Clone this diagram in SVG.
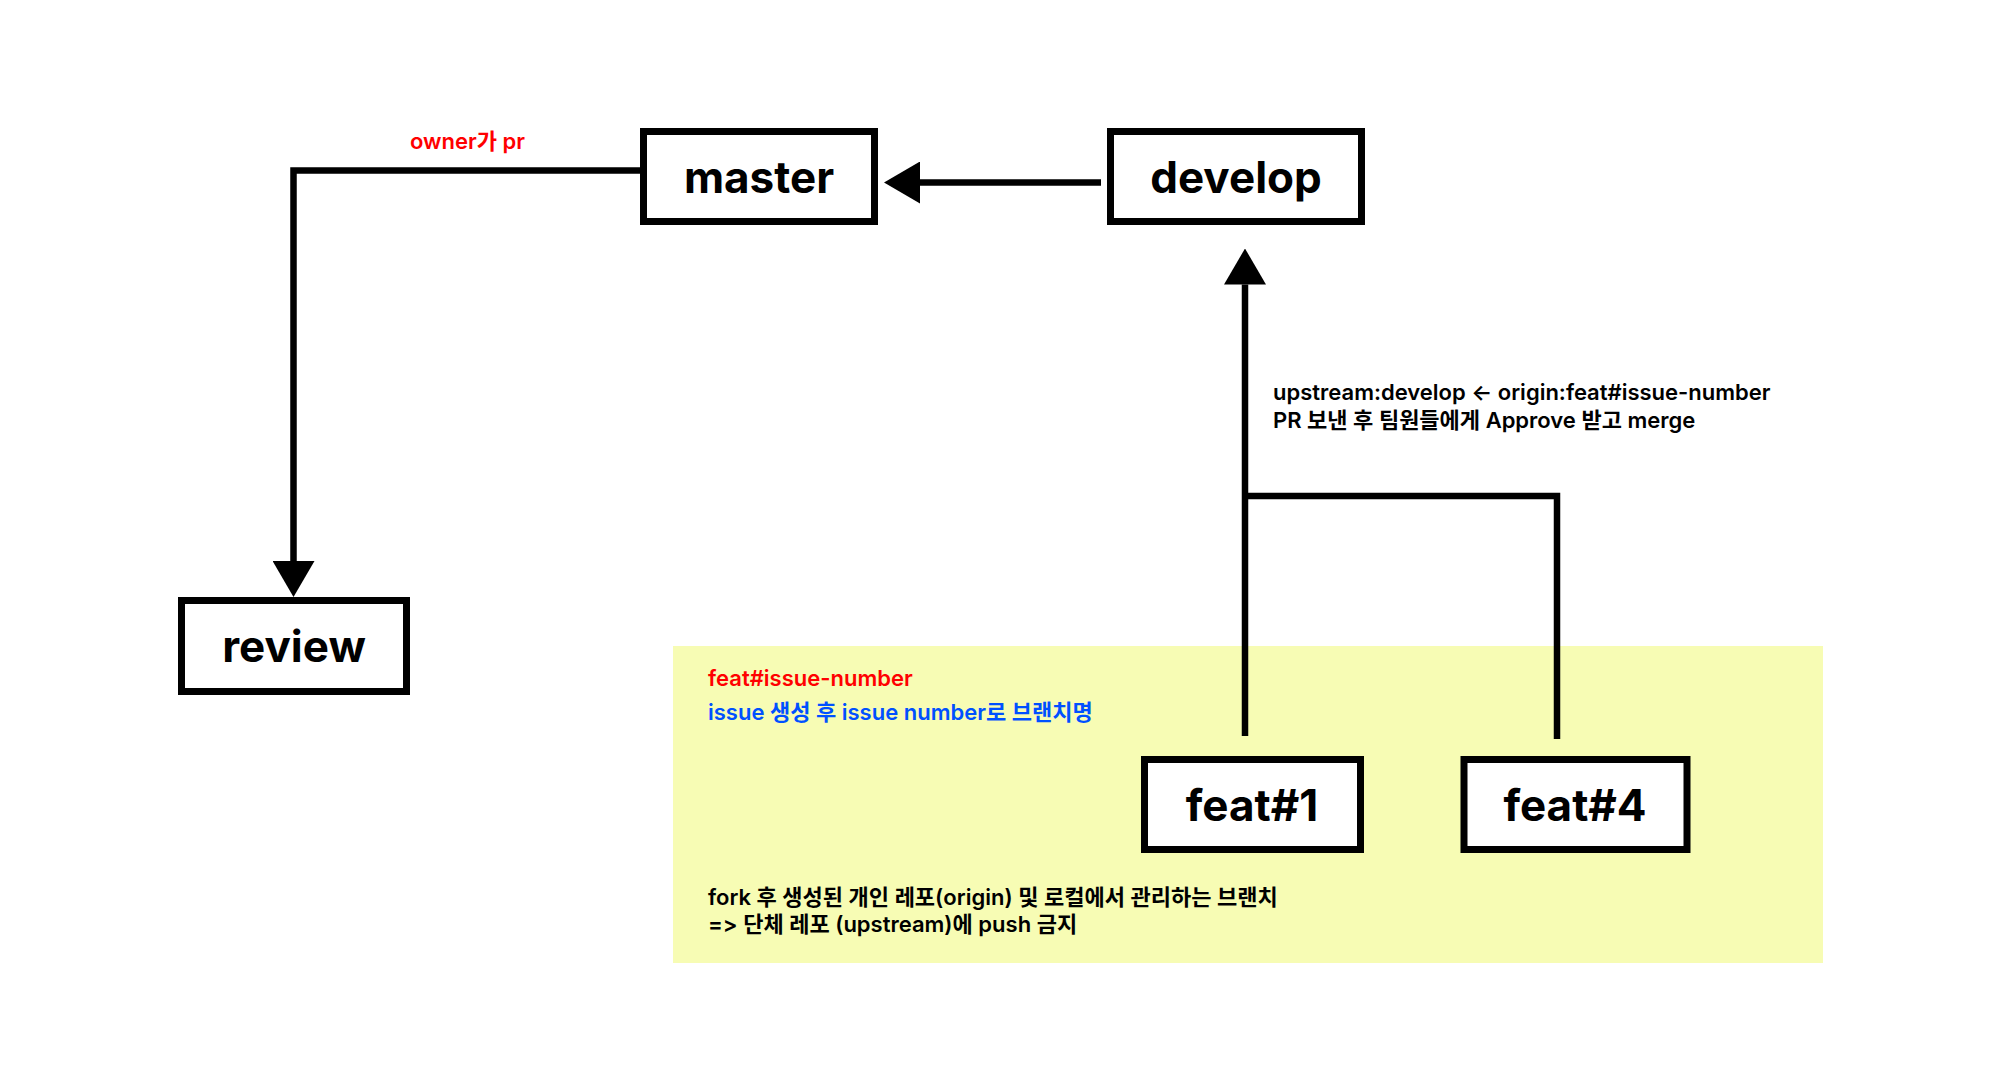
<svg xmlns="http://www.w3.org/2000/svg" width="2000" height="1091" viewBox="0 0 2000 1091">
<style>
.box{fill:#fff;stroke:#000;stroke-width:7}
.lbl{font-family:Inter,"Noto Sans CJK KR",sans-serif;font-weight:700;font-size:44px;fill:#000;text-anchor:middle}
.note{font-family:Inter,"Noto Sans CJK KR",sans-serif;font-weight:600;font-size:22px;fill:#000}
.red{fill:#ff0000}
.blue{fill:#0050ff}
.conn{fill:none;stroke:#000;stroke-width:6.5}
</style>
<defs>
<marker id="ah" markerUnits="userSpaceOnUse" markerWidth="36" markerHeight="42" refX="0" refY="21" orient="auto" viewBox="0 0 36 42">
<path d="M0,0 L36,21 L0,42 Z" fill="#000"/>
</marker>
</defs>
<rect width="2000" height="1091" fill="#fff"/>
<g id="area">
<rect x="673" y="646" width="1150" height="317" fill="#f7fcb4"/>
<text class="note red" x="708" y="686">feat#issue-number</text>
<text class="note blue" x="708" y="720">issue 생성 후 issue number로 브랜치명</text>
<text class="note" x="708" y="905">fork 후 생성된 개인 레포(origin) 및 로컬에서 관리하는 브랜치</text>
<text class="note" x="708" y="932">=&gt; 단체 레포 (upstream)에 push 금지</text>
</g>
<g id="connectors">
<path class="conn" d="M640,170.5 H293.5 V561" marker-end="url(#ah)"/>
<path class="conn" d="M1101,182.5 H920" marker-end="url(#ah)"/>
<path class="conn" d="M1245,736 V284.5" marker-end="url(#ah)"/>
<path class="conn" d="M1557,739 V496 H1245"/>
<text class="note red" x="410" y="149">owner가 pr</text>
<text class="note" x="1273" y="400">upstream:develop ← origin:feat#issue-number</text>
<text class="note" x="1273" y="428">PR 보낸 후 팀원들에게 Approve 받고 merge</text>
</g>
<g id="master">
<rect class="box" x="643.5" y="131.5" width="231" height="90"/>
<text class="lbl" x="759" y="193">master</text>
</g>
<g id="develop">
<rect class="box" x="1110.5" y="131.5" width="251" height="90"/>
<text class="lbl" x="1236" y="193">develop</text>
</g>
<g id="review">
<rect class="box" x="181.5" y="600.5" width="225" height="91"/>
<text class="lbl" x="294" y="662">review</text>
</g>
<g id="feat1">
<rect class="box" x="1144.5" y="759.5" width="216" height="90"/>
<text class="lbl" x="1252" y="821">feat#1</text>
</g>
<g id="feat4">
<rect class="box" x="1464" y="759.5" width="223" height="90"/>
<text class="lbl" x="1575" y="821">feat#4</text>
</g>
</svg>
